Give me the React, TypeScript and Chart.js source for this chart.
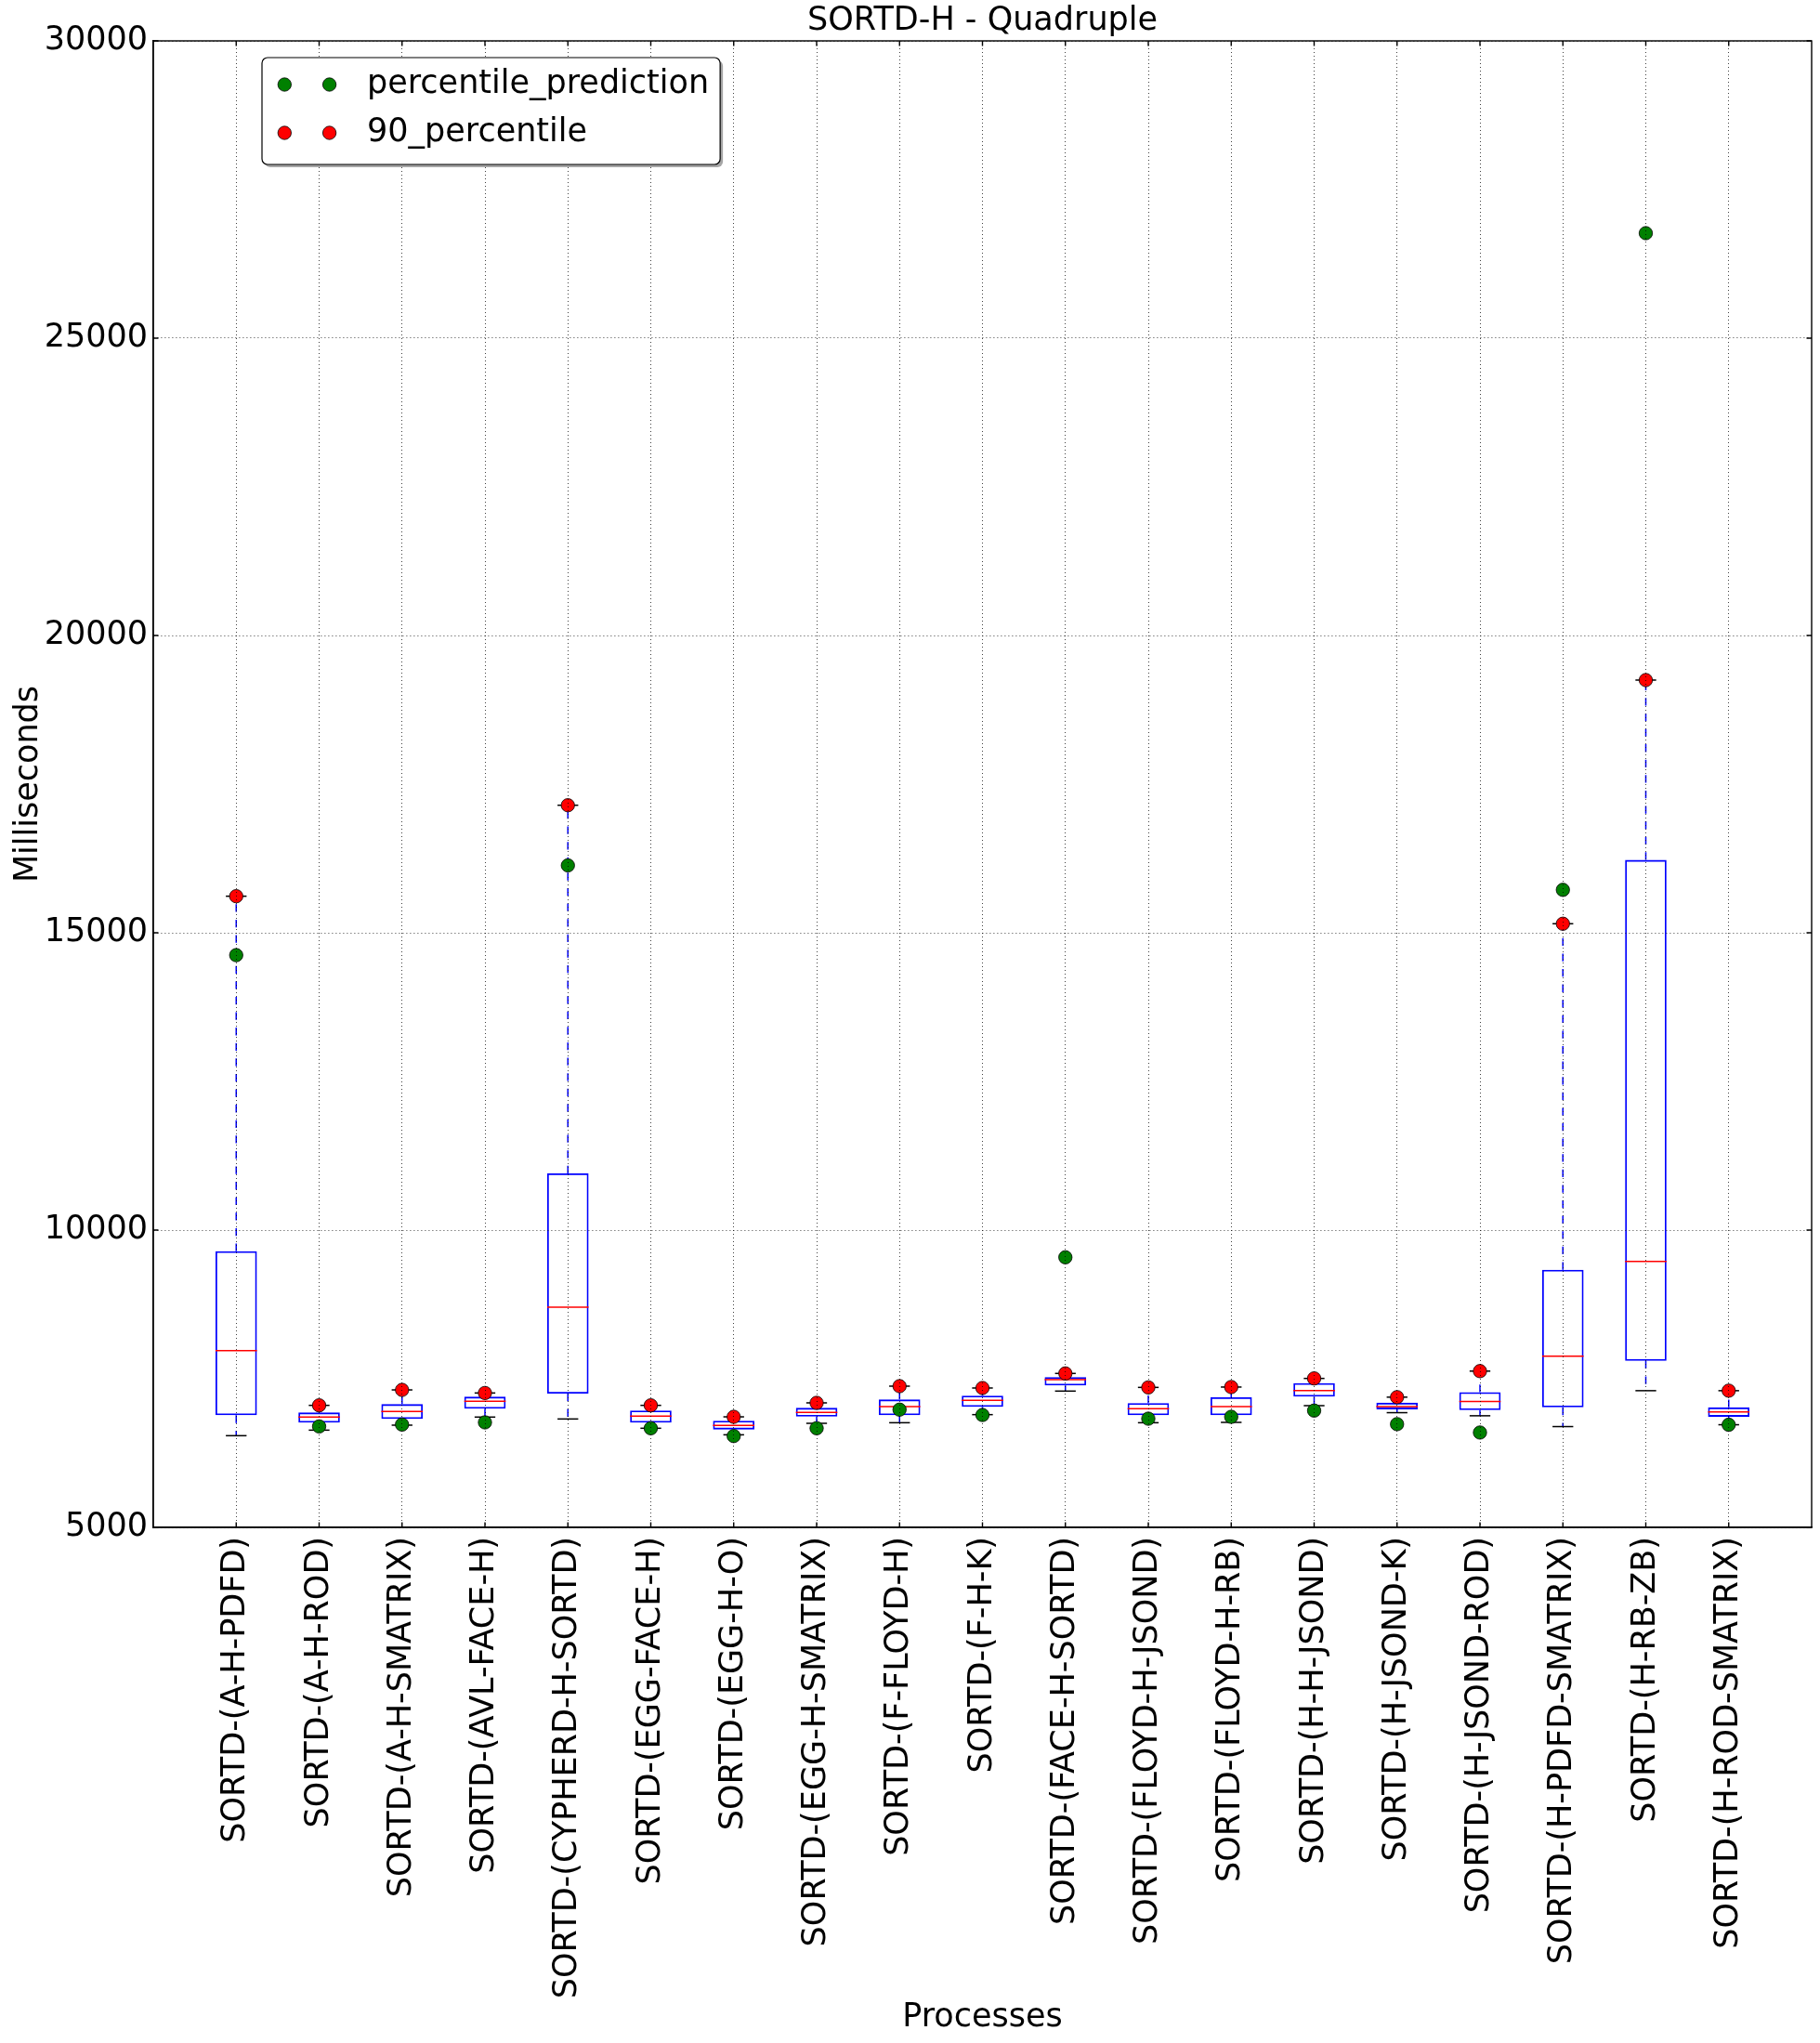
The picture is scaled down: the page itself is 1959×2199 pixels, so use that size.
import React, { useEffect, useRef } from 'react';
import { Chart, registerables } from 'chart.js';

Chart.register(...registerables);

// ---------- data ----------
const categories = [
  'SORTD-(A-H-PDFD)',
  'SORTD-(A-H-ROD)',
  'SORTD-(A-H-SMATRIX)',
  'SORTD-(AVL-FACE-H)',
  'SORTD-(CYPHERD-H-SORTD)',
  'SORTD-(EGG-FACE-H)',
  'SORTD-(EGG-H-O)',
  'SORTD-(EGG-H-SMATRIX)',
  'SORTD-(F-FLOYD-H)',
  'SORTD-(F-H-K)',
  'SORTD-(FACE-H-SORTD)',
  'SORTD-(FLOYD-H-JSOND)',
  'SORTD-(FLOYD-H-RB)',
  'SORTD-(H-H-JSOND)',
  'SORTD-(H-JSOND-K)',
  'SORTD-(H-JSOND-ROD)',
  'SORTD-(H-PDFD-SMATRIX)',
  'SORTD-(H-RB-ZB)',
  'SORTD-(H-ROD-SMATRIX)',
];

const whiskerLow = [6542, 6635, 6719, 6855, 6823, 6667, 6557, 6750, 6760, 6896, 7292, 6760, 6766, 7047, 6929, 6877, 6695, 7299, 6726];
const q1 = [6885, 6760, 6823, 6995, 7250, 6760, 6646, 6864, 6885, 7026, 7385, 6885, 6885, 7198, 6986, 6971, 7018, 7800, 6861];
const medians = [7973, 6855, 6948, 7120, 8705, 6870, 6714, 6932, 7031, 7136, 7484, 6995, 7031, 7302, 7033, 7117, 7878, 9473, 6940];
const q3 = [9644, 6932, 7073, 7198, 10952, 6964, 6792, 7010, 7151, 7214, 7526, 7089, 7187, 7427, 7096, 7273, 9333, 16225, 7018];
const whiskerHigh = [15615, 7052, 7312, 7260, 17145, 7052, 6859, 7094, 7375, 7344, 7589, 7354, 7360, 7505, 7190, 7628, 15152, 19250, 7299];
const percentilePrediction = [14624, 6698, 6729, 6766, 16133, 6667, 6536, 6667, 6980, 6890, 9542, 6828, 6859, 6964, 6736, 6595, 15722, 26766, 6726];
const percentile90 = [15615, 7052, 7312, 7260, 17145, 7052, 6859, 7094, 7375, 7344, 7589, 7354, 7360, 7505, 7190, 7628, 15152, 19250, 7299];

const yTickValues = [5000, 10000, 15000, 20000, 25000, 30000];

const titleText = 'SORTD-H - Quadruple';
const xTitle = 'Processes';
const yTitle = 'Milliseconds';

// ---------- styles ----------
const FONT = 'DejaVu Sans';
const FS = 35;
const LW = 1.5;

const unitPx = (chart: any, units: number) => {
  const s = chart.scales.x;
  return Math.abs(s.getPixelForValue(units) - s.getPixelForValue(0));
};

const framePlugin = {
  id: 'mplFrame',
  afterDraw(chart: any) {
    const { ctx, chartArea: a, scales } = chart;
    ctx.save();
    ctx.strokeStyle = '#000';
    ctx.lineWidth = 1.4;
    ctx.setLineDash([]);
    const tl = 5.5;
    ctx.beginPath();
    scales.y.ticks.forEach((t: any) => {
      const y = scales.y.getPixelForValue(t.value);
      ctx.moveTo(a.left, y);
      ctx.lineTo(a.left + tl, y);
      ctx.moveTo(a.right, y);
      ctx.lineTo(a.right - tl, y);
    });
    scales.x.ticks.forEach((t: any) => {
      const x = scales.x.getPixelForValue(t.value);
      ctx.moveTo(x, a.bottom);
      ctx.lineTo(x, a.bottom - tl);
      ctx.moveTo(x, a.top);
      ctx.lineTo(x, a.top + tl);
    });
    ctx.stroke();
    ctx.strokeRect(a.left, a.top, a.right - a.left, a.bottom - a.top);

    // legend (matplotlib style, inside the axes, upper left)
    const items = chart.data.datasets
      .filter((d: any) => d.legendIndex !== undefined)
      .sort((p: any, q: any) => p.legendIndex - q.legendIndex);
    ctx.font = `${FS}px "${FONT}"`;
    const maxText = Math.max(...items.map((d: any) => ctx.measureText(d.label).width));
    const lx = a.left + 117;
    const ly = a.top + 18;
    const textOff = 113;
    const w = textOff + maxText + 12;
    const rowH = 52;
    const h = 29 + rowH * (items.length - 1) + 34;
    const r = 6;
    const rr = (x: number, y: number, ww: number, hh: number) => {
      ctx.beginPath();
      ctx.moveTo(x + r, y);
      ctx.lineTo(x + ww - r, y);
      ctx.arcTo(x + ww, y, x + ww, y + r, r);
      ctx.lineTo(x + ww, y + hh - r);
      ctx.arcTo(x + ww, y + hh, x + ww - r, y + hh, r);
      ctx.lineTo(x + r, y + hh);
      ctx.arcTo(x, y + hh, x, y + hh - r, r);
      ctx.lineTo(x, y + r);
      ctx.arcTo(x, y, x + r, y, r);
      ctx.closePath();
    };
    rr(lx + 3, ly + 3, w, h);
    ctx.fillStyle = 'rgba(77,77,77,0.5)';
    ctx.fill();
    rr(lx, ly, w, h);
    ctx.fillStyle = '#fff';
    ctx.fill();
    ctx.lineWidth = 1.2;
    ctx.strokeStyle = '#000';
    ctx.stroke();
    items.forEach((d: any, i: number) => {
      const cy = ly + 29 + i * rowH;
      [24.3, 72.6].forEach((dx) => {
        ctx.beginPath();
        ctx.arc(lx + dx, cy, 7.2, 0, Math.PI * 2);
        ctx.fillStyle = d.backgroundColor;
        ctx.fill();
        ctx.lineWidth = 0.8;
        ctx.strokeStyle = '#000';
        ctx.stroke();
      });
      ctx.fillStyle = '#000';
      ctx.textAlign = 'left';
      ctx.textBaseline = 'middle';
      ctx.fillText(d.label, lx + textOff, cy);
    });
    ctx.restore();
  },
};

export default function App() {
  const ref = useRef<HTMLCanvasElement>(null);

  useEffect(() => {
    document.body.style.margin = '0';
    const xs = categories.map((_, i) => i + 1);

    const whiskerPoints = xs.flatMap((x, i) => [
      { x, y: q3[i] },
      { x, y: whiskerHigh[i] },
      { x, y: null },
      { x, y: q1[i] },
      { x, y: whiskerLow[i] },
      { x, y: null },
    ]);

    const chart = new Chart(ref.current as HTMLCanvasElement, {
      type: 'scatter',
      data: {
        datasets: [
          {
            type: 'scatter',
            label: '90_percentile',
            legendIndex: 1,
            data: xs.map((x, i) => ({ x, y: percentile90[i] })),
            backgroundColor: '#ff0000',
            borderColor: '#000',
            borderWidth: 0.8,
            pointRadius: 7.2,
            order: 0,
          } as any,
          {
            type: 'scatter',
            label: 'percentile_prediction',
            legendIndex: 0,
            data: xs.map((x, i) => ({ x, y: percentilePrediction[i] })),
            backgroundColor: '#008000',
            borderColor: '#000',
            borderWidth: 0.8,
            pointRadius: 7.2,
            order: 1,
          } as any,
          {
            type: 'scatter',
            label: 'medians',
            data: xs.map((x, i) => ({ x, y: medians[i] })),
            pointStyle: 'line',
            borderColor: '#ff0000',
            borderWidth: LW,
            pointRadius: (c: any) => unitPx(c.chart, 0.25),
            order: 2,
          } as any,
          {
            type: 'scatter',
            label: 'caps',
            data: [
              ...xs.map((x, i) => ({ x, y: whiskerHigh[i] })),
              ...xs.map((x, i) => ({ x, y: whiskerLow[i] })),
            ],
            pointStyle: 'line',
            borderColor: '#000',
            borderWidth: LW,
            pointRadius: (c: any) => unitPx(c.chart, 0.125),
            order: 3,
          } as any,
          {
            type: 'line',
            label: 'whiskers',
            data: whiskerPoints,
            borderColor: '#0000ff',
            borderWidth: LW,
            borderDash: [8.3, 8.3],
            pointRadius: 0,
            spanGaps: false,
            fill: false,
            order: 4,
          } as any,
          {
            type: 'bar',
            label: 'boxes',
            data: xs.map((x, i) => ({ x, y: [q1[i], q3[i]] })),
            backgroundColor: 'rgba(0,0,0,0)',
            borderColor: '#0000ff',
            borderWidth: 1.8,
            borderSkipped: false,
            categoryPercentage: 1,
            barPercentage: 0.5,
            order: 5,
          } as any,
        ],
      },
      options: {
        responsive: false,
        animation: false,
        devicePixelRatio: 1,
        events: [],
        layout: { padding: { left: 0, right: 9, top: 0, bottom: 0 } },
        plugins: {
          legend: { display: false },
          tooltip: { enabled: false },
          title: {
            display: true,
            text: titleText,
            fullSize: false,
            color: '#000',
            font: { family: FONT, size: FS, weight: 'normal' },
            padding: { top: 2, bottom: 0 },
          },
        },
        scales: {
          x: {
            type: 'linear',
            min: 0,
            max: categories.length + 1,
            offset: false,
            afterBuildTicks: (scale: any) => {
              scale.ticks = xs.map((v) => ({ value: v }));
            },
            afterFit: (scale: any) => {
              scale.height = 555;
            },
            ticks: {
              autoSkip: false,
              minRotation: 90,
              maxRotation: 90,
              padding: 10,
              color: '#000',
              font: { family: FONT, size: FS },
              callback: (v: any) => categories[Number(v) - 1] ?? '',
            },
            grid: {
              offset: false,
              drawTicks: false,
              color: 'rgba(0,0,0,0.75)',
              lineWidth: 1,
              z: 1,
            },
            border: { display: true, color: '#000', width: 1.4, dash: [1, 3], z: 1 },
            title: {
              display: true,
              text: xTitle,
              color: '#000',
              font: { family: FONT, size: FS },
              padding: { top: 0, bottom: 5.7 },
            },
          },
          y: {
            type: 'linear',
            min: 5000,
            max: 30000,
            afterBuildTicks: (scale: any) => {
              scale.ticks = yTickValues.map((v) => ({ value: v }));
            },
            afterFit: (scale: any) => {
              scale.width = 165;
            },
            ticks: {
              padding: 6,
              color: '#000',
              font: { family: FONT, size: FS },
              callback: (v: any) => String(v),
            },
            grid: {
              drawTicks: false,
              color: 'rgba(0,0,0,0.75)',
              lineWidth: 1,
              z: 1,
            },
            border: { display: true, color: '#000', width: 1.4, dash: [1, 3], z: 1 },
            title: {
              display: true,
              text: yTitle,
              color: '#000',
              font: { family: FONT, size: FS },
              padding: { top: 10.3, bottom: 0 },
            },
          },
        },
      } as any,
      plugins: [framePlugin],
    });

    return () => chart.destroy();
  }, []);

  return (
    <div style={{ width: 1959, height: 2199 }}>
      <canvas ref={ref} width={1959} height={2199} style={{ display: 'block' }} />
    </div>
  );
}
